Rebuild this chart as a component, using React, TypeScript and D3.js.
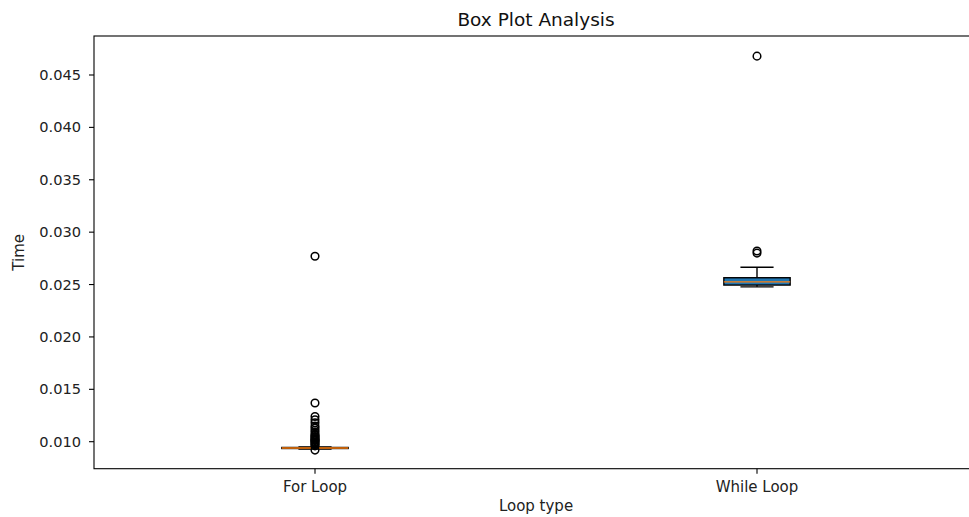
import React from 'react';
import * as d3 from 'd3';

// box statistics (seconds)
const categories = ['For Loop', 'While Loop'];
const q1 = [0.00935, 0.02495];
const medians = [0.0094, 0.02525];
const q3 = [0.00945, 0.02565];
const whiskerLow = [0.0093, 0.02478];
const whiskerHigh = [0.0095, 0.02665];
const outliers = [
  [0.0277, 0.0137, 0.0124, 0.0121, 0.0118, 0.0115, 0.0113, 0.0111, 0.0109, 0.0107,
   0.0106, 0.0105, 0.0104, 0.0103, 0.0102, 0.01015, 0.0101, 0.0100, 0.0099, 0.0098,
   0.0097, 0.0096, 0.0092],
  [0.0468, 0.0282, 0.0280],
];
const yTicks = [0.010, 0.015, 0.020, 0.025, 0.030, 0.035, 0.040, 0.045];

const W = 969;
const H = 517;
const left = 94, right = 978, top = 36, bottom = 468.7;

const App = () => {
  const x = d3.scaleLinear().domain([0.5, 2.5]).range([left, right]);
  const y = d3.scaleLinear().domain([0.007423, 0.048722]).range([bottom, top]);
  const boxW = x(1.15) - x(1);
  const font = 'DejaVu Sans, sans-serif';

  return (
    <svg width={W} height={H} style={{ position: 'absolute', left: 0, top: 0, background: '#fff' }}
      fontFamily={font}>
      <text x={(left + right) / 2} y={26} textAnchor="middle" fontSize={18.5} fill="#111">Box Plot Analysis</text>

      {categories.map((c, i) => {
        const cx = x(i + 1);
        return (
          <g key={c}>
            <line x1={cx} x2={cx} y1={y(q3[i])} y2={y(whiskerHigh[i])} stroke="#000" strokeWidth={1.4} />
            <line x1={cx} x2={cx} y1={y(q1[i])} y2={y(whiskerLow[i])} stroke="#000" strokeWidth={1.4} />
            <line x1={cx - boxW / 4} x2={cx + boxW / 4} y1={y(whiskerHigh[i])} y2={y(whiskerHigh[i])} stroke="#000" strokeWidth={1.4} />
            <line x1={cx - boxW / 4} x2={cx + boxW / 4} y1={y(whiskerLow[i])} y2={y(whiskerLow[i])} stroke="#000" strokeWidth={1.4} />
            <rect x={cx - boxW / 2} width={boxW} y={y(q3[i])} height={y(q1[i]) - y(q3[i])}
              fill="#1f77b4" stroke="#000" strokeWidth={1.4} />
            <line x1={cx - boxW / 2} x2={cx + boxW / 2} y1={y(medians[i])} y2={y(medians[i])} stroke="#ff7f0e" strokeWidth={1.4} />
            {outliers[i].map((v, j) => (
              <circle key={j} cx={cx} cy={y(v)} r={3.8} fill="none" stroke="#000" strokeWidth={1.5} />
            ))}
            <line x1={cx} x2={cx} y1={bottom} y2={bottom + 5} stroke="#000" strokeWidth={1.1} />
            <text x={cx} y={492} textAnchor="middle" fontSize={15} fill="#222">{c}</text>
          </g>
        );
      })}

      {yTicks.map(t => (
        <g key={t}>
          <line x1={left - 5} x2={left} y1={y(t)} y2={y(t)} stroke="#000" strokeWidth={1.1} />
          <text x={left - 13} y={y(t)} dy="0.35em" textAnchor="end" fontSize={14.6} fill="#222">{d3.format('.3f')(t)}</text>
        </g>
      ))}

      <rect x={left} y={top} width={right - left} height={bottom - top} fill="none" stroke="#000" strokeWidth={1.1} />

      <text x={(left + right) / 2} y={511} textAnchor="middle" fontSize={15} fill="#222">Loop type</text>
      <text transform={`translate(24,${(top + bottom) / 2}) rotate(-90)`} textAnchor="middle" fontSize={15} fill="#222">Time</text>
    </svg>
  );
};

export default App;
